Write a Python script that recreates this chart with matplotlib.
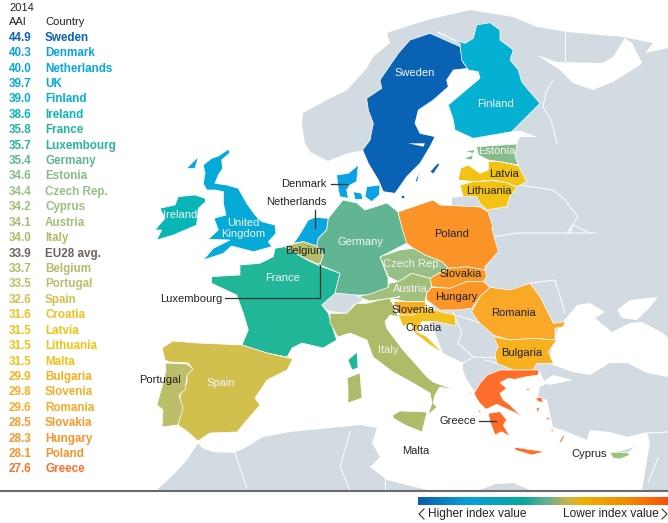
import matplotlib
matplotlib.use("Agg")
import matplotlib.pyplot as plt
from matplotlib.patches import Polygon
from matplotlib.colors import LinearSegmentedColormap
import numpy as np

# --- table data ---
countries = ["Sweden", "Denmark", "Netherlands", "UK", "Finland", "Ireland", "France", "Luxembourg",
             "Germany", "Estonia", "Czech Rep.", "Cyprus", "Austria", "Italy", "EU28 avg.", "Belgium",
             "Portugal", "Spain", "Croatia", "Latvia", "Lithuania", "Malta", "Bulgaria", "Slovenia",
             "Romania", "Slovakia", "Hungary", "Poland", "Greece"]
aai = ["44.9", "40.3", "40.0", "39.7", "39.0", "38.6", "35.8", "35.7", "35.4", "34.6", "34.4", "34.2",
       "34.1", "34.0", "33.9", "33.7", "33.5", "32.6", "31.6", "31.5", "31.5", "31.5", "29.9", "29.8",
       "29.6", "28.5", "28.3", "28.1", "27.6"]
colours = ["#0a62b4", "#0aa2e2", "#0aa6de", "#05aad8", "#05b0d2", "#0ab5b5", "#22b698", "#26b69a",
           "#62b592", "#86bc88", "#98bf86", "#9cc07e", "#a2c07c", "#aebb68", "#6b635f", "#b5bc6a",
           "#bcbe6a", "#d2c04e", "#f3c11f", "#f2c214", "#f2c214", "#f2c214", "#f7b020", "#f8ae24",
           "#f9a828", "#fa9a2a", "#fb9528", "#fb9428", "#ff6d2a"]
colour = dict(zip(countries, colours))
GREY = "#d3dbe2"


# crop offset -> picture pixels
def zc(pts, x0, y0):
    return [(x0 + x / 3, y0 + y / 3) for x, y in pts]


# --- grey land ---
land = [
    [(310, 152), (305, 143), (302, 125), (303, 113), (327, 100), (347, 90), (367, 68), (373, 57), (390, 43),
     (387, 33), (427, 20), (470, 10), (513, 17), (537, 27), (567, 32), (623, 37), (653, 43), (645, 53),
     (668, 48), (668, 338), (663, 333), (642, 322), (630, 323), (612, 332), (595, 318), (605, 312),
     (590, 303), (577, 305), (567, 317), (558, 328), (552, 347), (550, 357), (553, 365), (540, 372),
     (510, 375), (490, 395), (475, 392), (467, 380), (463, 370), (463, 363), (443, 353), (430, 320),
     (452, 205), (452, 198), (473, 195), (490, 195), (505, 165), (517, 144), (520, 137), (537, 137),
     (521, 131), (512, 131), (470, 60), (400, 60), (365, 150), (348, 153), (328, 161)],
    # Turkey and the Levant
    [(540, 372), (553, 365), (573, 372), (590, 375), (610, 363), (627, 363), (647, 373), (668, 377),
     (668, 490), (642, 490), (647, 460), (650, 443), (647, 432), (627, 437), (610, 432), (590, 430),
     (587, 440), (563, 430), (553, 427), (547, 400), (538, 397), (540, 387), (546, 384)],
    # north Africa
    [(157, 490), (173, 475), (187, 460), (198, 443), (202, 448), (213, 452), (233, 453), (245, 448), (263, 437),
     (290, 432), (330, 428), (360, 425), (377, 428), (372, 443), (380, 457), (370, 467), (387, 480), (427, 490)],
    [(480, 490), (495, 484), (513, 483), (530, 490)],
    # Switzerland
    [(320, 300), (330, 293), (340, 290), (353, 293), (363, 300), (353, 305), (347, 313), (330, 311), (320, 307)],
    # north Cyprus
    [(618, 452), (634, 447), (628, 453)],
]
seas = [
    [(537, 55), (557, 62), (603, 63), (613, 57), (625, 38), (632, 43), (642, 63), (640, 65), (613, 82),
     (593, 90), (573, 83), (560, 70)],
    [(617, 310), (630, 300), (658, 297), (650, 307), (637, 320), (622, 318)],
    [(543, 382), (553, 375), (573, 380), (550, 385)],
]
grey_borders = [
    [(553, 80), (546, 92), (543, 107), (551, 120), (557, 143)], [(565, 33), (565, 63)],
    [(520, 185), (553, 190), (565, 200), (578, 217), (567, 233), (597, 233)],
    [(492, 237), (517, 233), (570, 233), (573, 225), (590, 233)],
    [(530, 283), (555, 280), (565, 313)],
    [(453, 312), (462, 333), (458, 343), (473, 357), (463, 363)],
    [(473, 357), (500, 358)], [(455, 315), (480, 323)], [(485, 360), (497, 363)],
    [(647, 432), (653, 433), (668, 432)], [(658, 458), (648, 483)],
    [(235, 453), (247, 488)], [(350, 432), (340, 467), (350, 490)], [(385, 478), (385, 490)],
]

# --- country outlines ---
shapes = {
    "Sweden": [zc([(270, 100), (360, 140), (370, 190), (385, 205), (340, 210), (320, 240), (325, 260), (280, 300),
                   (235, 330), (225, 370), (240, 400), (285, 410), (270, 440), (240, 490), (200, 530), (165, 580),
                   (130, 575), (115, 540), (85, 490), (68, 450), (90, 420), (100, 370), (85, 330), (80, 295),
                   (125, 265), (120, 240), (175, 160), (210, 120)], 340, 0),
               zc([(270, 515), (295, 487), (298, 495), (280, 522)], 340, 0),
               zc([(225, 545), (240, 510), (232, 545)], 340, 0),
               [(401, 195), (404, 195), (404, 198), (401, 198)]],
    "Finland": [zc([(290, 95), (345, 120), (375, 130), (400, 115), (410, 75), (450, 68), (480, 90), (480, 120),
                    (520, 150), (510, 180), (535, 210), (545, 245), (565, 270), (600, 310), (560, 350), (515, 395),
                    (400, 415), (345, 390), (340, 360), (325, 315), (390, 260), (420, 235), (415, 215), (385, 210),
                    (365, 180), (360, 130), (330, 115)], 340, 0)],
    "Estonia": [zc([(410, 440), (530, 432), (525, 470), (535, 495), (480, 485), (445, 480), (415, 465)], 340, 0),
                zc([(375, 455), (405, 448), (400, 460)], 340, 0), zc([(370, 475), (400, 465), (395, 480)], 340, 0)],
    "Latvia": [zc([(355, 540), (362, 505), (385, 495), (420, 520), (445, 510), (445, 485), (480, 485), (535, 497),
                   (550, 525), (560, 545), (530, 560), (500, 548), (460, 540), (400, 545)], 340, 0)],
    "Lithuania": [zc([(360, 555), (400, 545), (460, 542), (500, 548), (530, 562), (510, 590), (500, 620), (440, 630),
                      (420, 610), (410, 590), (370, 590)], 340, 0)],
    "Denmark": [zc([(590, 105), (625, 100), (655, 75), (650, 125), (630, 135), (620, 150), (625, 175), (600, 170),
                    (595, 150)], 140, 140),
                zc([(640, 155), (665, 160), (668, 178), (645, 178)], 140, 140),
                zc([(680, 140), (720, 135), (718, 165), (695, 185), (675, 170)], 140, 140)],
    "Netherlands": [zc([(460, 310), (475, 290), (490, 265), (505, 240), (525, 232), (565, 235), (560, 270), (535, 295),
                        (530, 318), (490, 305)], 140, 140)],
    "Belgium": [zc([(435, 318), (490, 305), (530, 318), (550, 345), (540, 375), (505, 360), (475, 345),
                    (435, 330)], 140, 140)],
    "Luxembourg": [zc([(534, 370), (545, 372), (546, 384), (537, 382)], 140, 140)],
    "France": [zc([(405, 325), (435, 320), (475, 345), (505, 362), (540, 378), (600, 400), (585, 460), (545, 495),
                   (565, 520), (580, 570), (590, 600)], 140, 140)
               + [(323, 348), (302, 343), (292, 348), (287, 357), (267, 353), (242, 345)]
               + zc([(325, 570), (310, 520), (290, 465), (215, 430), (215, 410), (300, 405), (300, 375), (360, 370),
                     (400, 350)], 140, 140),
               [(357, 352), (358, 368), (352, 370), (348, 360)]],
    "Germany": [[(343, 200), (357, 203), (365, 210), (387, 203), (398, 212), (402, 227), (407, 243), (380, 257),
                 (388, 278), (388, 290), (373, 295), (357, 295), (335, 293)]
                + zc([(600, 400), (540, 375), (550, 345), (530, 318), (535, 295), (560, 270), (565, 235)], 140, 140)],
    "Poland": [[(398, 212), (433, 200), (440, 205), (480, 207), (488, 212), (493, 227)]
               + zc([(365, 85), (385, 155), (345, 200), (345, 210), (290, 200), (235, 205), (215, 185), (165, 165),
                     (130, 145), (110, 130), (95, 80)], 370, 200)],
    "Czech Rep.": [zc([(30, 170), (90, 150), (130, 145), (165, 165), (215, 185), (235, 205), (215, 215), (180, 235),
                       (125, 220), (85, 245), (55, 230)], 370, 200)],
    "Slovakia": [zc([(235, 205), (290, 200), (345, 210), (350, 230), (340, 245), (290, 245), (240, 265), (185, 260),
                     (180, 235), (215, 215)], 370, 200)],
    "Austria": [[(358, 297), (370, 294)]
                + zc([(55, 262), (55, 250), (85, 245), (125, 220), (180, 235), (185, 260), (170, 280), (165, 305),
                      (110, 305), (60, 295), (0, 303)], 370, 200)],
    "Hungary": [zc([(185, 262), (240, 265), (290, 245), (340, 245), (360, 262), (330, 290), (305, 325), (260, 330),
                    (210, 330), (170, 300), (170, 280)], 370, 200)],
    "Romania": [zc([(360, 262), (420, 270), (480, 250), (510, 290), (530, 330), (550, 370), (585, 365), (580, 380),
                    (555, 385), (555, 420), (490, 415), (420, 420), (370, 405), (325, 365), (305, 335),
                    (330, 290)], 370, 200)],
    "Bulgaria": [zc([(370, 410), (420, 420), (490, 415), (560, 420), (535, 455), (550, 490), (500, 490), (490, 510),
                     (430, 510), (380, 490), (375, 460), (385, 440)], 370, 200)],
    "Slovenia": [zc([(70, 305), (110, 305), (165, 305), (170, 320), (130, 345), (90, 345), (85, 335)], 370, 200)],
    "Croatia": [zc([(130, 345), (165, 320), (210, 335), (255, 345), (258, 378), (200, 365), (155, 365), (140, 395),
                    (170, 410), (220, 460), (180, 435), (135, 400), (120, 370), (100, 380), (85, 345)], 370, 200)],
    "Greece": [zc([(222, 70), (240, 40), (262, 15), (300, 0), (415, 0), (415, 15), (380, 20), (345, 28), (325, 25),
                   (300, 38), (320, 55), (300, 70), (310, 90), (330, 105), (350, 125), (372, 142), (345, 128),
                   (310, 112), (290, 103), (258, 118), (240, 100), (230, 85)], 400, 370),
               zc([(265, 130), (300, 125), (320, 150), (310, 165), (330, 200), (305, 185), (285, 195),
                   (270, 155)], 400, 370),
               zc([(345, 232), (400, 240), (435, 245), (395, 255), (345, 240)], 400, 370),
               zc([(405, 85), (425, 82), (430, 97), (415, 95)], 400, 370),
               zc([(408, 115), (418, 112), (415, 130)], 400, 370),
               zc([(478, 215), (490, 195), (493, 200), (483, 218)], 400, 370),
               zc([(205, 65), (212, 68), (216, 80)], 400, 370),
               zc([(232, 120), (240, 120), (240, 128)], 400, 370),
               zc([(376, 58), (388, 55), (386, 63)], 400, 370),
               zc([(433, 146), (450, 142), (448, 150)], 400, 370),
               zc([(450, 182), (460, 178), (458, 186)], 400, 370)],
    "Italy": [zc([(570, 520), (620, 520), (650, 490), (680, 490), (720, 480), (780, 470)], 140, 140)
              + zc([(60, 297), (70, 315), (85, 350), (60, 345), (45, 365), (50, 385)], 370, 200)
              + [(403, 350), (427, 377), (433, 382), (455, 390), (440, 387), (438, 390), (435, 395), (433, 403),
                 (437, 407), (428, 415), (432, 403), (430, 393), (413, 383), (393, 372), (373, 357), (367, 340),
                 (350, 333), (338, 337), (330, 323)],
              [(393, 415), (400, 411), (427, 412), (422, 432), (405, 425), (393, 418)],
              [(347, 378), (360, 373), (362, 398), (348, 403), (348, 387)]],
    "Spain": [[(162, 348), (173, 341), (197, 343), (242, 345), (267, 353), (293, 359), (287, 370), (267, 380),
               (255, 398), (260, 405), (247, 420), (237, 432), (210, 433), (198, 441), (188, 432), (178, 425),
               (182, 410), (180, 395), (187, 383), (187, 373), (192, 368), (188, 363), (170, 362), (165, 360)]],
    "Portugal": [[(165, 363), (187, 364), (193, 369), (187, 375), (185, 390), (179, 395), (183, 408), (178, 425),
                  (162, 427), (163, 410), (157, 405), (163, 383), (166, 370)]],
    "UK": [zc([(190, 75), (215, 55), (235, 48), (265, 28), (270, 38), (245, 60), (248, 85), (235, 105), (225, 130),
               (260, 135), (295, 145), (320, 190), (345, 225), (365, 245), (405, 255), (408, 280), (385, 305),
               (395, 320), (340, 335), (275, 318), (250, 340), (190, 360), (220, 325), (270, 300), (205, 298),
               (235, 270), (222, 235), (258, 225), (250, 190), (250, 155), (225, 150), (200, 150), (190, 130),
               (195, 100)], 140, 140),
           zc([(140, 85), (175, 50), (165, 85)], 140, 140)],
    "Ireland": [zc([(60, 205), (105, 195), (115, 170), (165, 165), (195, 175), (197, 185), (175, 205), (170, 255),
                    (100, 285), (50, 300), (65, 270), (45, 270), (75, 235)], 140, 140)],
    "Malta": [[(413, 440), (416, 442), (415, 443)]],
    "Cyprus": [[(610, 453), (618, 452), (628, 453), (630, 455), (620, 459), (613, 458)]],
}
lake = zc([(205, 430), (255, 430), (250, 440)], 340, 0)

# name, x, y, colour
map_labels = [("Sweden", 415, 73, "w"), ("Finland", 495, 104, "w"), ("Estonia", 497, 151, "w"),
              ("Latvia", 504, 174, "k"), ("Lithuania", 489, 191, "k"), ("Denmark", 304, 184, "k"),
              ("Netherlands", 296, 202, "k"), ("Ireland", 180, 215, "w"), ("United", 243, 223, "w"),
              ("Kingdom", 243, 234, "w"), ("Germany", 360, 242, "w"), ("France", 283, 278, "w"),
              ("Belgium", 305, 251, "k"), ("Luxembourg", 191, 299, "k"), ("Poland", 452, 234, "k"),
              ("Czech Rep.", 412, 264, "w"), ("Slovakia", 461, 274, "k"), ("Austria", 410, 289, "w"),
              ("Hungary", 456, 297, "k"), ("Slovenia", 413, 310, "k"), ("Croatia", 424, 328, "k"),
              ("Romania", 513, 313, "k"), ("Bulgaria", 522, 353, "k"), ("Portugal", 160, 380, "k"),
              ("Spain", 221, 383, "w"), ("Italy", 388, 350, "w"), ("Greece", 458, 421, "k"),
              ("Malta", 416, 451, "k"), ("Cyprus", 589, 454, "k")]
leaders = [[(331, 184), (347, 184)], [(315, 210), (315, 228)], [(225, 298), (320, 298), (320, 265)],
           [(479, 421), (496, 421)]]

bar_stops = [(0.0, "#0a5cab"), (0.2, "#0a9fdc"), (0.42, "#06a79f"), (0.52, "#6cb08a"), (0.6, "#c7b34a"),
             (0.66, "#eeb000"), (0.84, "#f58a00"), (1.0, "#fa5008")]

plt.rcParams['font.family'] = ['Liberation Sans', 'DejaVu Sans']

fig = plt.figure(figsize=(6.68, 5.23), dpi=100)
ax = fig.add_axes([0, 0, 1, 1])

# --- map ---
for poly in land:
    ax.add_patch(Polygon(poly, closed=True, fc=GREY, ec="none", zorder=1))
for poly in seas:
    ax.add_patch(Polygon(poly, closed=True, fc="white", ec="none", zorder=2))
for line in grey_borders:
    ax.plot(*zip(*line), color="white", lw=0.7, zorder=3)
for name, polys in shapes.items():
    for poly in polys:
        ax.add_patch(Polygon(poly, closed=True, fc=colour[name], ec="white", lw=0.5, zorder=4))
ax.add_patch(Polygon(lake, closed=True, fc="white", ec="none", zorder=5))

for line in leaders:
    ax.plot(*zip(*line), color="#333333", lw=0.9, zorder=6)
for name, x, y, c in map_labels:
    ax.text(x, y, name, color="#222222" if c == "k" else "#f4f4f4", fontsize=8, ha="center", va="center", zorder=7)

# --- left table ---
ax.text(9, 8, "2014", fontsize=8, color="#222222", va="center")
ax.text(9, 22, "AAI", fontsize=8, color="#222222", va="center")
ax.text(45, 22, "Country", fontsize=8, color="#222222", va="center")
for i, (name, val, c) in enumerate(zip(countries, aai, colours)):
    y = 37.7 + i * 15.42
    ax.text(9, y, val, color=c, fontsize=8.4, fontweight="bold", va="center")
    ax.text(45, y, name, color=c, fontsize=8.4, fontweight="bold", va="center")

# --- bottom rule and colour bar ---
ax.plot([0, 668], [491, 491], color="#6b6b6b", lw=1.5, zorder=8)
cmap = LinearSegmentedColormap.from_list("aai", bar_stops)
ax.imshow(np.linspace(0, 1, 256)[None, :], cmap=cmap, extent=(418, 668, 505, 497.5), aspect="auto", zorder=8)
ax.plot([424, 419, 424], [509, 514, 519], color="#333333", lw=0.8)
ax.plot([662, 667, 662], [509, 514, 519], color="#333333", lw=0.8)
ax.text(428, 514, "Higher index value", fontsize=8.55, color="#222222", va="center")
ax.text(659, 514, "Lower index value", fontsize=8.55, color="#222222", va="center", ha="right")

ax.set_xlim(0, 668)
ax.set_ylim(523, 0)
ax.axis("off")

fig.savefig("out.png", dpi=100)
